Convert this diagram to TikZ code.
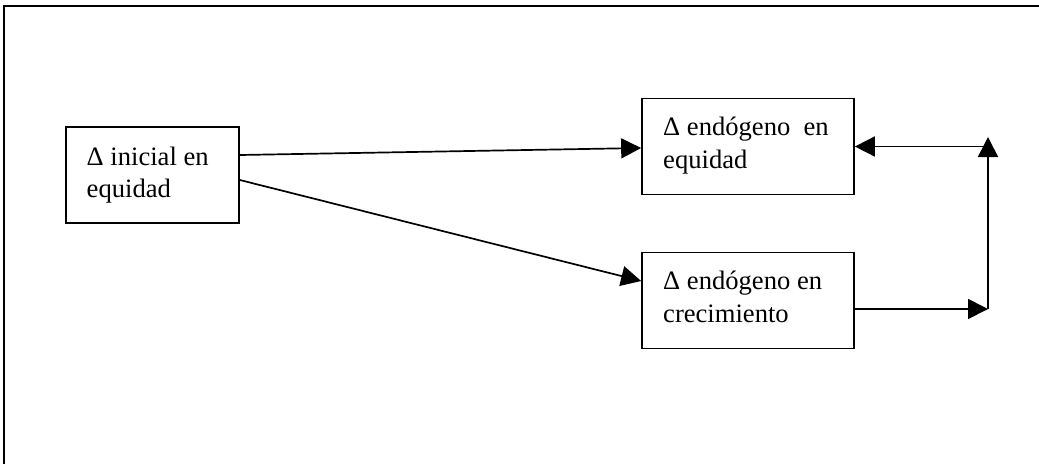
\documentclass[tikz,border=0pt]{standalone}
\usepackage{fontspec}
\setmainfont{Liberation Serif}
\usetikzlibrary{arrows.meta}
\begin{document}
\begin{tikzpicture}[x=1pt,y=-1pt,
  box/.style={draw,line width=1.7pt,rectangle,minimum height=96pt,inner sep=0pt},
  txt/.style={anchor=base west,inner sep=0pt,font=\fontsize{26.6}{32}\selectfont},
  conn/.style={line width=1.7pt,-{Triangle[length=20pt,width=20pt]}},
  frame/.style={line width=1.8pt}]
\useasboundingbox (0,0) rectangle (1039,464);
\draw[frame] (4,464) -- (4,6) -- (1039,6);
\node[box,minimum width=173pt] (A) at (152.5,175) {};
\node[box,minimum width=212pt] (B) at (748,146.5) {};
\node[box,minimum width=212pt] (C) at (748,300.5) {};
\node[txt] (a1) at (86.5,165) {Δ inicial en};
\node[txt] (a2) at (86.5,197) {equidad};
\node[txt] (b1) at (663,135.5) {Δ endógeno\ \ en};
\node[txt] (b2) at (663,168) {equidad};
\node[txt] (c1) at (663,289.5) {Δ endógeno en};
\node[txt] (c2) at (663,322) {crecimiento};
\coordinate (r1) at (988,309);
\coordinate (r2) at (988,137);
\coordinate (r3) at (988,146.5);
\draw[conn] ([yshift=20pt]A.east) -- ([yshift=-1.5pt]B.west);
\draw[conn] ([yshift=-5pt]A.east) -- ([yshift=19.5pt]C.west);
\draw[conn] ([yshift=-8.5pt]C.east) -- (r1);
\draw[conn] (r1) -- (r2);
\draw[conn] (r3) -- (B.east);
\end{tikzpicture}
\end{document}
